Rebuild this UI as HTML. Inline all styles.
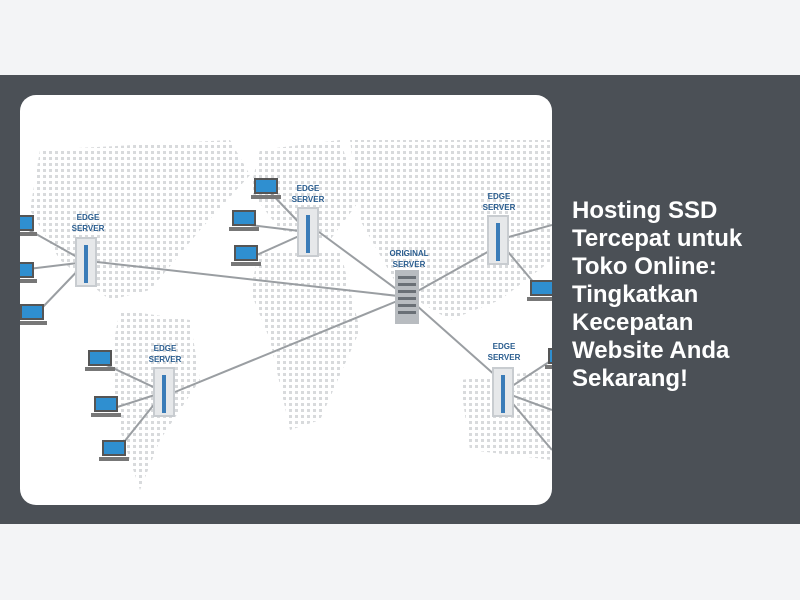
<!DOCTYPE html>
<html><head><meta charset="utf-8"><style>
html,body{margin:0;padding:0;width:800px;height:600px;background:#f3f4f6;overflow:hidden}
.band{position:absolute;left:0;top:75px;width:800px;height:449px;background:#4b5056}
.card{position:absolute;left:20px;top:95px;width:532px;height:410px;background:#fff;border-radius:16px;overflow:hidden}
.t{position:absolute;left:572px;top:197px;width:200px;color:#fff;font:bold 24px/28px "Liberation Sans",sans-serif}
</style></head><body>
<div class="band"></div>
<div class="card">
<svg width="532" height="410" viewBox="20 95 532 410" xmlns="http://www.w3.org/2000/svg">
<defs>
<pattern id="d" width="6" height="6" patternUnits="userSpaceOnUse"><rect x="1" y="1" width="3" height="3" fill="#d8dadc"/></pattern>
<g id="lap"><rect x="2" y="0" width="24" height="16" fill="#555"/><rect x="4" y="2" width="20" height="12" fill="#2f8fd0"/><rect x="-1" y="17" width="30" height="4" fill="#777"/></g>
<g id="srv"><rect x="0" y="0" width="22" height="50" fill="#c8ccd0"/><rect x="2" y="2" width="18" height="46" fill="#e6e8ea"/><rect x="9" y="8" width="4" height="38" fill="#3a7cb8"/></g>
</defs>
<g fill="url(#d)">
<path d="M40 150 L230 140 L250 175 L200 230 L150 290 L110 300 L60 260 L30 210Z"/>
<path d="M120 310 L190 320 L200 380 L160 440 L140 490 L120 430 L110 360Z"/>
<path d="M260 150 L340 140 L360 200 L330 240 L280 230 L250 190Z"/>
<path d="M260 250 L340 250 L360 330 L320 420 L290 430 L270 340 L250 290Z"/>
<path d="M350 140 L550 140 L552 260 L500 300 L450 320 L400 290 L360 220Z"/>
<path d="M460 380 L552 370 L552 460 L470 450Z"/>
</g>
<g stroke="#9a9ea2" stroke-width="2" fill="none">
<line x1="97" y1="262" x2="407" y2="297"/>
<line x1="319" y1="232" x2="407" y2="297"/>
<line x1="509" y1="240" x2="407" y2="297"/>
<line x1="175" y1="392" x2="407" y2="297"/>
<line x1="514" y1="392" x2="407" y2="297"/>
<line x1="20" y1="225" x2="86" y2="262"/><line x1="20" y1="270" x2="86" y2="262"/><line x1="40" y1="310" x2="86" y2="262"/>
<line x1="268" y1="190" x2="308" y2="232"/><line x1="250" y1="225" x2="308" y2="232"/><line x1="250" y1="258" x2="308" y2="232"/>
<line x1="100" y1="362" x2="164" y2="392"/><line x1="108" y1="410" x2="164" y2="392"/><line x1="116" y1="452" x2="164" y2="392"/>
<line x1="498" y1="240" x2="552" y2="225"/><line x1="498" y1="240" x2="540" y2="290"/>
<line x1="503" y1="392" x2="552" y2="360"/><line x1="503" y1="392" x2="552" y2="410"/><line x1="503" y1="392" x2="552" y2="450"/>
</g>
<use href="#lap" x="8" y="215"/><use href="#lap" x="8" y="262"/><use href="#lap" x="18" y="304"/>
<use href="#lap" x="252" y="178"/><use href="#lap" x="230" y="210"/><use href="#lap" x="232" y="245"/>
<use href="#lap" x="86" y="350"/><use href="#lap" x="92" y="396"/><use href="#lap" x="100" y="440"/>
<use href="#lap" x="528" y="280"/><use href="#lap" x="546" y="348"/>
<use href="#srv" x="75" y="237"/><use href="#srv" x="297" y="207"/><use href="#srv" x="487" y="215"/>
<use href="#srv" x="153" y="367"/><use href="#srv" x="492" y="367"/>
<rect x="395" y="270" width="24" height="54" fill="#b8bcc0"/>
<g fill="#6a7076"><rect x="398" y="276" width="18" height="3"/><rect x="398" y="283" width="18" height="3"/><rect x="398" y="290" width="18" height="3"/><rect x="398" y="297" width="18" height="3"/><rect x="398" y="304" width="18" height="3"/><rect x="398" y="311" width="18" height="3"/></g>
<g font-family="Liberation Sans,sans-serif" font-size="8" font-weight="bold" fill="#2a5d8f" text-anchor="middle">
<text x="88" y="220">EDGE</text><text x="88" y="231">SERVER</text>
<text x="308" y="191">EDGE</text><text x="308" y="202">SERVER</text>
<text x="499" y="199">EDGE</text><text x="499" y="210">SERVER</text>
<text x="165" y="351">EDGE</text><text x="165" y="362">SERVER</text>
<text x="504" y="349">EDGE</text><text x="504" y="360">SERVER</text>
<text x="409" y="256">ORIGINAL</text><text x="409" y="267">SERVER</text>
</g>
</svg>
</div>
<div class="t">Hosting SSD Tercepat untuk Toko Online: Tingkatkan Kecepatan Website Anda Sekarang!</div>
</body></html>
